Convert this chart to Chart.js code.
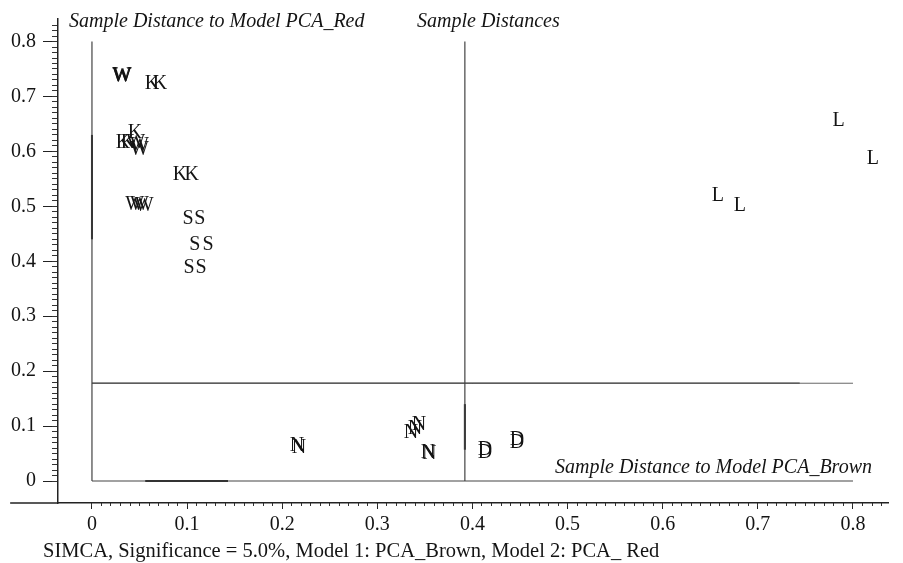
<!DOCTYPE html>
<html>
<head>
<meta charset="utf-8">
<script src="https://cdn.jsdelivr.net/npm/chart.js@4.4.1/dist/chart.umd.min.js"></script>
<style>
  html, body { margin: 0; padding: 0; background: #fff; }
  #wrap { width: 903px; height: 563px; position: relative; }
</style>
</head>
<body>
<div id="wrap"><canvas id="simcaChart"></canvas></div>
<script>
// x = distance to model PCA_Brown, y = distance to model PCA_Red
const wX = [0.031, 0.032, 0.0315, 0.046, 0.050, 0.050, 0.045, 0.050, 0.055];
const wY = [0.738, 0.737, 0.735, 0.616, 0.610, 0.603, 0.503, 0.503, 0.501];
const kX = [0.063, 0.0715, 0.0326, 0.0378, 0.0452, 0.0925, 0.105];
const kY = [0.723, 0.723, 0.616, 0.616, 0.634, 0.557, 0.557];
const sX = [0.101, 0.1135, 0.108, 0.122, 0.102, 0.1146];
const sY = [0.478, 0.478, 0.430, 0.430, 0.389, 0.389];
const lX = [0.785, 0.821, 0.658, 0.681];
const lY = [0.656, 0.587, 0.519, 0.501];
const nX = [0.2155, 0.2176, 0.3354, 0.3396, 0.3438, 0.3532, 0.3545];
const nY = [0.0636, 0.0600, 0.0872, 0.0944, 0.1017, 0.0509, 0.0490];
const dX = [0.4131, 0.4131, 0.4468, 0.4468];
const dY = [0.0563, 0.0509, 0.0745, 0.0690];

// class limits
const critBrown = 0.392;
const critRed = 0.178;
const frameTop = 0.8;
const frameRight = 0.8;
const redLineEnd = 0.744;
// darker overlapping pieces of the limit lines
const darkOnX0 = [0.44, 0.63];
const darkOnY0 = [0.056, 0.143];
const darkOnCrit = [0.057, 0.14];

// view
const xMin = -0.0357, xMax = 0.8368, xAxisStart = -0.086;
const yMin = -0.040, yMax = 0.841;

const titleRed = 'Sample Distance to Model PCA_Red';
const titleBoth = 'Sample Distances';
const titleBrown = 'Sample Distance to Model PCA_Brown';
const caption = 'SIMCA, Significance = 5.0%, Model 1: PCA_Brown, Model 2: PCA_ Red';

const serif = '"Liberation Serif", "Times New Roman", serif';
const ink = '#141414';

function pts(xs, ys) {
    return xs.map((x, i) => ({ x: x, y: ys[i] }));
}

function seg(a, b, width, color) {
    return {
        data: [a, b],
        showLine: true,
        pointRadius: 0,
        borderColor: color,
        borderWidth: width,
        fill: false
    };
}

const thin = '#444';
const dark = '#222';

const lineSets = [
    seg({ x: 0, y: 0 }, { x: 0, y: frameTop }, 1.2, thin),
    seg({ x: 0, y: 0 }, { x: frameRight, y: 0 }, 1.2, thin),
    seg({ x: critBrown, y: 0 }, { x: critBrown, y: frameTop }, 1.2, thin),
    seg({ x: 0, y: critRed }, { x: frameRight, y: critRed }, 1.0, '#666'),
    seg({ x: 0, y: critRed }, { x: redLineEnd, y: critRed }, 1.3, thin),
    seg({ x: 0, y: darkOnX0[0] }, { x: 0, y: darkOnX0[1] }, 2.0, dark),
    seg({ x: darkOnY0[0], y: 0 }, { x: darkOnY0[1], y: 0 }, 2.0, dark),
    seg({ x: critBrown, y: darkOnCrit[0] }, { x: critBrown, y: darkOnCrit[1] }, 2.0, dark)
];

function letterSet(letter, xs, ys) {
    return { letter: letter, data: pts(xs, ys), pointRadius: 0, showLine: false };
}

const letterSets = [
    letterSet('W', wX, wY),
    letterSet('K', kX, kY),
    letterSet('S', sX, sY),
    letterSet('L', lX, lY),
    letterSet('N', nX, nY),
    letterSet('D', dX, dY)
];

const letterPlugin = {
    id: 'letters',
    afterDatasetsDraw(chart) {
        const ctx = chart.ctx;
        ctx.save();
        ctx.font = '20px ' + serif;
        ctx.fillStyle = ink;
        ctx.textAlign = 'center';
        ctx.textBaseline = 'middle';
        chart.data.datasets.forEach((ds, i) => {
            if (!ds.letter) return;
            chart.getDatasetMeta(i).data.forEach(p => ctx.fillText(ds.letter, p.x, p.y));
        });
        ctx.restore();
    }
};

const notePlugin = {
    id: 'notes',
    afterDraw(chart) {
        const ctx = chart.ctx;
        const xs = chart.scales.x;
        ctx.save();
        // x axis line runs on past the y axis
        ctx.strokeStyle = '#222';
        ctx.lineWidth = 1.5;
        ctx.beginPath();
        ctx.moveTo(xs.getPixelForValue(xAxisStart), xs.top);
        ctx.lineTo(xs.left, xs.top);
        ctx.stroke();

        ctx.fillStyle = ink;
        ctx.textAlign = 'left';
        ctx.textBaseline = 'alphabetic';
        ctx.font = 'italic 20px ' + serif;
        ctx.fillText(titleRed, 69, 27);
        ctx.fillText(titleBoth, 417, 27);
        ctx.fillText(titleBrown, 555, 473);
        ctx.font = '20.5px ' + serif;
        ctx.fillText(caption, 43, 557);
        ctx.restore();
    }
};

const keepPositive = s => { s.ticks = s.ticks.filter(t => t.value > -1e-9 && t.value < 0.8301); };
const fmt = v => (Math.abs(v) < 1e-9 ? '0' : String(Math.round(v * 10) / 10));
const tickFont = { family: serif, size: 20 };

new Chart(document.getElementById('simcaChart').getContext('2d'), {
    type: 'scatter',
    data: { datasets: lineSets.concat(letterSets) },
    options: {
        responsive: true,
        maintainAspectRatio: false,
        devicePixelRatio: 1,
        animation: false,
        layout: { padding: { left: 10, right: 15, top: 18, bottom: 0 } },
        plugins: {
            legend: { display: false },
            tooltip: { enabled: false },
            title: { display: false }
        },
        scales: {
            x: {
                type: 'linear', position: 'bottom', weight: 1,
                min: xMin, max: xMax,
                afterFit: s => { s.height = 60; },
                afterBuildTicks: keepPositive,
                border: { display: true, color: '#222', width: 1.5 },
                grid: { drawOnChartArea: false, drawTicks: true, tickLength: 6, color: '#222', lineWidth: 1 },
                ticks: { stepSize: 0.1, includeBounds: false, autoSkip: false, maxRotation: 0, padding: 4, color: ink, font: tickFont, callback: fmt }
            },
            xMinor: {
                type: 'linear', axis: 'x', position: 'bottom', weight: 0,
                min: xMin, max: xMax,
                afterFit: s => { s.height = 0; },
                afterBuildTicks: keepPositive,
                border: { display: false },
                grid: { drawOnChartArea: false, drawTicks: true, tickLength: 3, color: '#333', lineWidth: 1 },
                ticks: { display: false, stepSize: 0.01, includeBounds: false, maxTicksLimit: 1000, autoSkip: false }
            },
            y: {
                type: 'linear', position: 'left', weight: 1,
                min: yMin, max: yMax,
                afterFit: s => { s.width = 48; },
                afterBuildTicks: keepPositive,
                border: { display: true, color: '#222', width: 1.5 },
                grid: { drawOnChartArea: false, drawTicks: true, tickLength: 15, color: '#222', lineWidth: 1 },
                ticks: { stepSize: 0.1, includeBounds: false, autoSkip: false, padding: 7, color: ink, font: tickFont, callback: fmt }
            },
            yMinor: {
                type: 'linear', axis: 'y', position: 'left', weight: 0,
                min: yMin, max: yMax,
                afterFit: s => { s.width = 0; },
                afterBuildTicks: keepPositive,
                border: { display: false },
                grid: { drawOnChartArea: false, drawTicks: true, tickLength: 6, color: '#333', lineWidth: 1 },
                ticks: { display: false, stepSize: 0.01, includeBounds: false, maxTicksLimit: 1000, autoSkip: false }
            }
        }
    },
    plugins: [letterPlugin, notePlugin]
});
</script>
</body>
</html>
